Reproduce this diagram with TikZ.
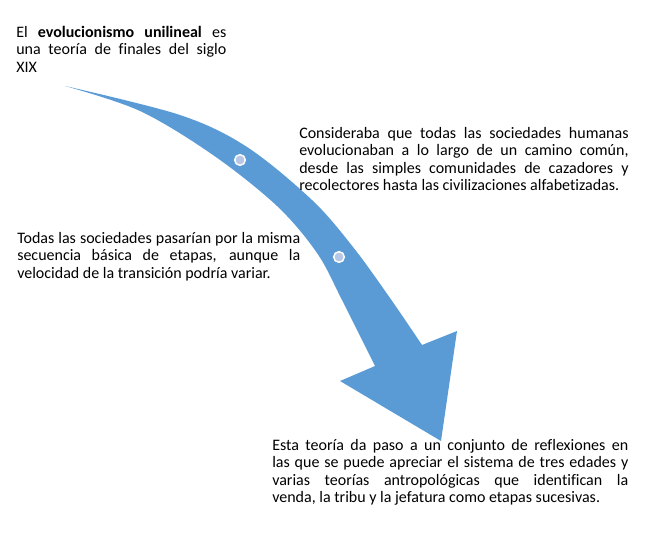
\documentclass[tikz,border=0pt]{standalone}
\usepackage{fontspec}
\setmainfont[Ligatures=NoCommon]{Carlito}
\definecolor{arrowblue}{RGB}{91,155,213}
\definecolor{dotfill}{RGB}{183,199,231}
\hbadness=10000
\hfuzz=20pt
\begin{document}
\begin{tikzpicture}[x=0.75pt,y=-0.75pt,
  txt/.style={anchor=north west, inner sep=0pt, align=justify,
    font=\fontsize{12}{13.1}\selectfont},
  dot/.style={circle, fill=dotfill, draw=white, line width=1.1pt,
    minimum size=8pt, inner sep=0pt}]
\useasboundingbox (0,0) rectangle (656,548);
% curved arrow
\fill[arrowblue] (65,86)
  -- plot[smooth, tension=0.55] coordinates {(65,86) (180,115) (247,147) (312,200) (353,247) (390,298) (422,345)}
  -- (457,331) -- (441,441) -- (340,381) -- (375,366)
  -- plot[smooth, tension=0.55] coordinates {(375,366) (342,300) (317,253) (277,206) (213,155) (140,111) (65,86)}
  -- cycle;
\node[dot] (d1) at (240,160) {};
\node[dot] (d2) at (339,257) {};
% texts
\node[txt, text width=157.5pt] (t1) at (16,24.8)
  {\strut El \textbf{evolucionismo unilineal} es\linebreak una teoría de finales del siglo\linebreak XIX};
\node[txt, text width=247pt] (t2) at (299,125.8)
  {\strut Consideraba que todas las sociedades humanas\linebreak evolucionaban a lo largo de un camino común,\linebreak desde las simples comunidades de cazadores y\linebreak recolectores hasta las civilizaciones alfabetizadas.};
\node[txt, text width=212.25pt] (t3) at (17,230.8)
  {\strut Todas las sociedades pasarían por la misma\linebreak secuencia básica de etapas, aunque la\linebreak velocidad de la transición podría variar.};
\node[txt, text width=267pt] (t4) at (272,437.8)
  {\strut Esta teoría da paso a un conjunto de reflexiones en\linebreak las que se puede apreciar el sistema de tres edades y\linebreak varias teorías antropológicas que identifican la\linebreak venda, la tribu y la jefatura como etapas sucesivas.};
\end{tikzpicture}
\end{document}
